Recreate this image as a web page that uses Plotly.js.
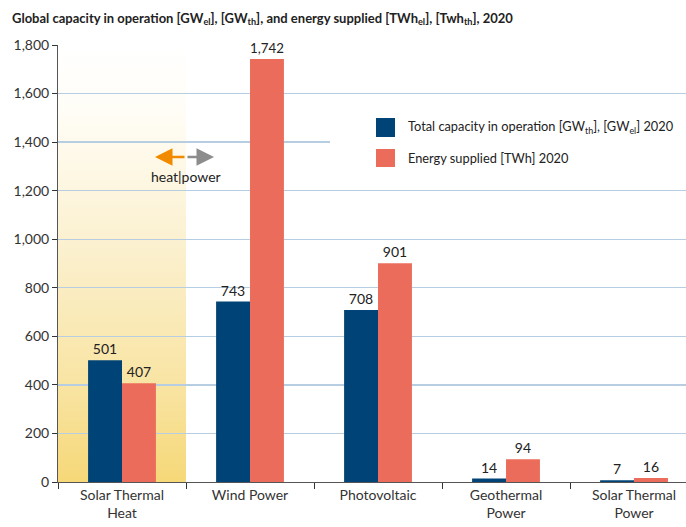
<!DOCTYPE html>
<html>
<head>
<meta charset="utf-8">
<script src="https://cdn.plot.ly/plotly-3.0.1.min.js"></script>
<style>html,body{margin:0;padding:0;background:#fff;}#chart{width:686px;height:527px;}</style>
</head>
<body>
<div id="chart"></div>
<script>
var categories = ["Solar Thermal<br>Heat", "Wind Power", "Photovoltaic", "Geothermal<br>Power", "Solar Thermal<br>Power"];
var capacity = [501, 743, 708, 14, 7];
var energy = [407, 1742, 901, 94, 16];
var capacityName = "Total capacity in operation [GW<sub>th</sub>], [GW<sub>el</sub>] 2020";
var energyName = "Energy supplied [TWh] 2020";
var yTicks = [0, 200, 400, 600, 800, 1000, 1200, 1400, 1600, 1800];

var FONT = "Lato, 'Open Sans', sans-serif";
var BLUE = "#004477";
var RED = "#ec6c5b";

function px2x(p){ return (p - 58) / 628; }
function px2y(p){ return (482 - p) / 437; }

var gradSvg = '<svg xmlns="http://www.w3.org/2000/svg" width="100" height="100" preserveAspectRatio="none">' +
  '<defs><linearGradient id="g" x1="0" y1="0" x2="0" y2="1">' +
  '<stop offset="0" stop-color="#ffffff"/>' +
  '<stop offset="0.15" stop-color="#fffdf6"/>' +
  '<stop offset="0.5" stop-color="#fbefca"/>' +
  '<stop offset="0.8" stop-color="#f8e39f"/>' +
  '<stop offset="1" stop-color="#f6d878"/>' +
  '</linearGradient></defs><rect width="100" height="100" fill="url(#g)"/></svg>';
var gradUri = "data:image/svg+xml;base64," + btoa(gradSvg);

var traces = [
  {type: "bar", name: capacityName, x: categories, y: capacity, text: capacity.map(String),
   textposition: "outside", cliponaxis: false, marker: {color: BLUE},
   textfont: {family: FONT, size: 14, color: "#222"}, hoverinfo: "none"},
  {type: "bar", name: energyName, x: categories, y: energy, text: energy.map(function(v){return v.toLocaleString("en-US");}),
   textposition: "outside", cliponaxis: false, marker: {color: RED},
   textfont: {family: FONT, size: 14, color: "#222"}, hoverinfo: "none"}
];

var layout = {
  width: 686, height: 527,
  margin: {l: 58, r: 0, t: 45, b: 45},
  paper_bgcolor: "#fff", plot_bgcolor: "rgba(0,0,0,0)",
  font: {family: FONT, size: 14, color: "#333"},
  barmode: "group", bargap: 0.47, bargroupgap: 0,
  title: {text: "<b>Global capacity in operation [GW<sub>el</sub>], [GW<sub>th</sub>], and energy supplied [TWh<sub>el</sub>], [Twh<sub>th</sub>], 2020</b>",
          x: 12/686, xanchor: "left", xref: "container", y: 1 - 18/527, yanchor: "middle",
          font: {family: FONT, size: 13, color: "#222"}},
  showlegend: false,
  xaxis: {type: "category", range: [-0.5, 4.406], tickson: "boundaries", ticks: "outside", ticklen: 6,
          tickcolor: "#333", showline: true, linecolor: "#555", linewidth: 1, showgrid: false,
          tickfont: {family: FONT, size: 14, color: "#333"}, fixedrange: true},
  yaxis: {range: [0, 1800], tickvals: yTicks, tickformat: ",", ticks: "outside", ticklen: 5,
          tickcolor: "#333", showline: true, linecolor: "#555", linewidth: 1,
          gridcolor: "#b7cde2", gridwidth: 1.3, zeroline: false,
          tickfont: {family: FONT, size: 14, color: "#333"}, fixedrange: true},
  images: [{source: gradUri, xref: "paper", yref: "paper", x: 0, y: 1, sizex: 128/628, sizey: 1,
            xanchor: "left", yanchor: "top", sizing: "stretch", layer: "below"}],
  shapes: [
    {type: "rect", xref: "paper", yref: "paper", x0: px2x(330), x1: 1, y0: px2y(185), y1: px2y(100),
     fillcolor: "#ffffff", line: {width: 0}, layer: "above"},
    {type: "rect", xref: "paper", yref: "paper", x0: px2x(376), x1: px2x(395), y0: px2y(137), y1: px2y(118),
     fillcolor: BLUE, line: {width: 0}, layer: "above"},
    {type: "rect", xref: "paper", yref: "paper", x0: px2x(376), x1: px2x(395), y0: px2y(167), y1: px2y(149),
     fillcolor: RED, line: {width: 0}, layer: "above"}
  ],
  annotations: [
    {xref: "paper", yref: "paper", x: px2x(406), y: px2y(127), text: capacityName, showarrow: false,
     xanchor: "left", yanchor: "middle", font: {family: FONT, size: 12.8, color: "#222"}},
    {xref: "paper", yref: "paper", x: px2x(406), y: px2y(158), text: energyName, showarrow: false,
     xanchor: "left", yanchor: "middle", font: {family: FONT, size: 12.8, color: "#222"}},
    {xref: "paper", yref: "paper", x: px2x(155), y: px2y(157), ax: 31, ay: 0, text: "",
     showarrow: true, arrowhead: 2, arrowsize: 1.4, arrowwidth: 2.5, arrowcolor: "#f28a00"},
    {xref: "paper", yref: "paper", x: px2x(214), y: px2y(157), ax: -28, ay: 0, text: "",
     showarrow: true, arrowhead: 2, arrowsize: 1.4, arrowwidth: 2.5, arrowcolor: "#8c8c8c"},
    {xref: "paper", yref: "paper", x: px2x(186), y: px2y(176), text: "heat|power", showarrow: false,
     xanchor: "center", yanchor: "middle", font: {family: FONT, size: 14, color: "#222"}}
  ]
};

Plotly.newPlot("chart", traces, layout, {displayModeBar: false, staticPlot: true});
</script>
</body>
</html>
